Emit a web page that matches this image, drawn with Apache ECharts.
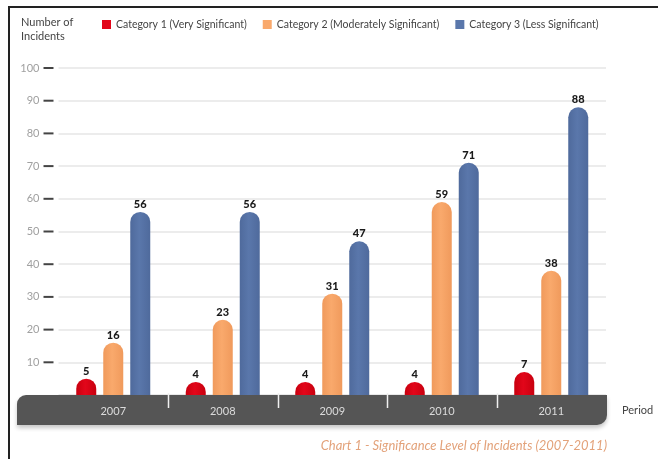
<!DOCTYPE html>
<html>
<head>
<meta charset="utf-8">
<script src="https://cdn.jsdelivr.net/npm/echarts@6/dist/echarts.min.js"></script>
<style>html,body{margin:0;padding:0;background:#fff;}#c{width:658px;height:459px;}</style>
</head>
<body>
<div id="c"></div>
<script>
const categories = ['2007', '2008', '2009', '2010', '2011'];
const seriesNames = ['Category 1 (Very Significant)', 'Category 2 (Moderately Significant)', 'Category 3 (Less Significant)'];
const cat1Values = [5, 4, 4, 4, 7];
const cat2Values = [16, 23, 31, 59, 38];
const cat3Values = [56, 56, 47, 71, 88];
const yTicks = [0, 10, 20, 30, 40, 50, 60, 70, 80, 90, 100];

const FONT = 'Lato, "Open Sans", sans-serif';
const baseColors = ['#e2061a', '#f9a96c', '#5a77ab'];
const edgeColors = ['#c8000f', '#f09a5c', '#4f6a9c'];

function grad(i) {
  return new echarts.graphic.LinearGradient(0, 0, 1, 0, [
    {offset: 0, color: edgeColors[i]},
    {offset: 0.45, color: baseColors[i]},
    {offset: 1, color: edgeColors[i]}
  ]);
}

const chart = echarts.init(document.getElementById('c'), null, {renderer: 'canvas'});
const allValues = [cat1Values, cat2Values, cat3Values];

const option = {
  animation: false,
  textStyle: {fontFamily: FONT},
  title: [
    {text: 'Number of\nIncidents', left: 16, top: 10,
     textStyle: {fontFamily: FONT, fontSize: 11, fontWeight: 'normal', color: '#444', lineHeight: 14}},
    {text: 'Chart 1 - Significance Level of Incidents (2007-2011)', right: 46, top: 434,
     textStyle: {fontFamily: FONT, fontSize: 13, fontWeight: 'normal', fontStyle: 'italic', color: '#e3a27a'}}
  ],
  legend: {
    left: 102, top: 19, padding: 0, itemWidth: 9, itemHeight: 9, itemGap: 16, icon: 'rect',
    textStyle: {fontFamily: FONT, fontSize: 10.5, color: '#444'},
    data: seriesNames.map((n, i) => ({name: n, itemStyle: {color: baseColors[i]}}))
  },
  grid: {left: 58.5, right: 52, top: 68, bottom: 64, containLabel: false},
  xAxis: {
    type: 'category', data: categories, z: 5,
    axisLine: {show: false}, axisTick: {show: false},
    axisLabel: {color: '#dcdcdc', fontSize: 11, margin: 11, fontFamily: FONT}
  },
  yAxis: {
    type: 'value', min: yTicks[0], max: yTicks[yTicks.length - 1], interval: 10,
    axisLine: {show: false}, axisTick: {show: false},
    splitLine: {lineStyle: {color: '#e6e6e6', width: 1.5}},
    axisLabel: {
      margin: 5,
      formatter: v => v === 0 ? '' : '{a|' + v + '}{d|}',
      rich: {
        a: {color: '#a0a0a0', fontSize: 11, fontFamily: FONT, padding: [0, 4, 0, 0]},
        d: {width: 10, height: 2, backgroundColor: '#444'}
      }
    }
  },
  series: allValues.map((vals, i) => ({
    name: seriesNames[i], type: 'bar', data: vals,
    barWidth: 20, barGap: '35%',
    itemStyle: {color: grad(i), borderRadius: [10, 10, 0, 0]},
    label: {show: true, position: 'top', distance: 2, fontFamily: FONT, fontWeight: 900, fontSize: 11, color: '#1a1a1a'}
  }))
};
chart.setOption(option);

// decorations derived from the library's axes
const y0 = chart.convertToPixel({yAxisIndex: 0}, 0);
const xs = categories.map((c, i) => chart.convertToPixel({xAxisIndex: 0}, i));
const bw = xs[1] - xs[0];
const axisLeft = xs[0] - bw / 2;
const axisRight = xs[xs.length - 1] + bw / 2;
const graphics = [
  {type: 'rect', z: 0, shape: {x: 8, y: 6, width: 650, height: 2}, style: {fill: '#222'}},
  {type: 'rect', z: 0, shape: {x: 8, y: 6, width: 2, height: 453}, style: {fill: '#222'}},
  {type: 'rect', z: 1,
   shape: {x: axisLeft - 41.5, y: y0, width: axisRight - axisLeft + 42.5, height: 30, r: [9, 0, 10, 0]},
   style: {fill: '#555555', shadowBlur: 4, shadowOffsetY: 3, shadowColor: 'rgba(0,0,0,0.22)'}},
  {type: 'text', z: 3, x: axisRight + 16, y: y0 + 15,
   style: {text: 'Period', fill: '#444', font: '11px ' + FONT, verticalAlign: 'middle', align: 'left'}}
];
for (let i = 1; i < xs.length; i++) {
  const x = Math.round((xs[i - 1] + xs[i]) / 2) + 0.5;
  graphics.push({type: 'line', z: 3, shape: {x1: x, y1: y0 - 2, x2: x, y2: y0 + 13},
    style: {stroke: '#f0f0f0', lineWidth: 1.5}});
}
chart.setOption({graphic: graphics});
</script>
</body>
</html>
